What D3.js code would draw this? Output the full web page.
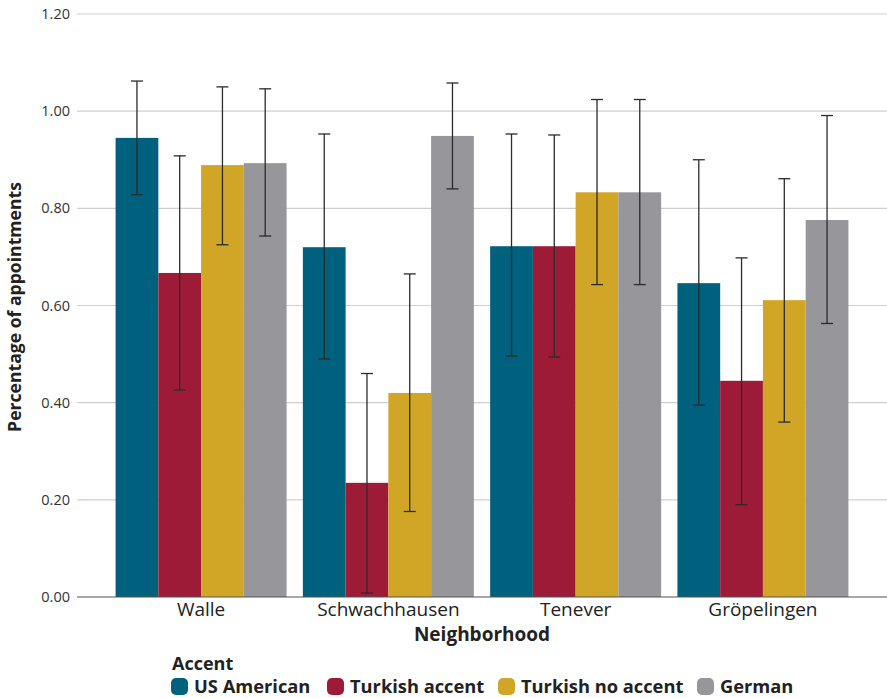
<!DOCTYPE html>
<html>
<head>
<meta charset="utf-8">
<script src="https://cdn.jsdelivr.net/npm/d3@7"></script>
<style>
  html, body { margin: 0; padding: 0; background: #fff; }
  svg { display: block; font-family: "Open Sans", "Noto Sans", sans-serif; }
</style>
</head>
<body>
<svg id="chart" width="887" height="698"></svg>
<script>
// Neighborhoods on the x axis
const neighborhoods = ["Walle", "Schwachhausen", "Tenever", "Gröpelingen"];
// Caller accent groups
const accents = ["US American", "Turkish accent", "Turkish no accent", "German"];
const accentColors = ["#00617f", "#9e1b37", "#d1a626", "#97979b"];

// Share of calls that led to an appointment, one array per accent (order of neighborhoods)
const usAmerican      = [0.945, 0.720, 0.722, 0.646];
const turkishAccent   = [0.667, 0.235, 0.722, 0.445];
const turkishNoAccent = [0.889, 0.420, 0.833, 0.611];
const german          = [0.893, 0.949, 0.833, 0.776];

// Confidence interval bounds
const usAmericanLow       = [0.828, 0.490, 0.496, 0.395];
const usAmericanHigh      = [1.062, 0.953, 0.953, 0.900];
const turkishAccentLow    = [0.426, 0.008, 0.494, 0.190];
const turkishAccentHigh   = [0.908, 0.460, 0.951, 0.698];
const turkishNoAccentLow  = [0.725, 0.176, 0.643, 0.360];
const turkishNoAccentHigh = [1.050, 0.665, 1.024, 0.861];
const germanLow           = [0.743, 0.840, 0.643, 0.563];
const germanHigh          = [1.046, 1.058, 1.024, 0.991];

const yTicks = [0, 0.2, 0.4, 0.6, 0.8, 1.0, 1.2];

const seriesValues = [usAmerican, turkishAccent, turkishNoAccent, german];
const seriesLow = [usAmericanLow, turkishAccentLow, turkishNoAccentLow, germanLow];
const seriesHigh = [usAmericanHigh, turkishAccentHigh, turkishNoAccentHigh, germanHigh];

const rows = [];
neighborhoods.forEach((n, i) => {
  accents.forEach((a, j) => {
    rows.push({ n, a, j, v: seriesValues[j][i], lo: seriesLow[j][i], hi: seriesHigh[j][i] });
  });
});

const svg = d3.select("#chart");
const plotLeft = 77, plotRight = 887, plotTop = 14, plotBottom = 597;

const x0 = d3.scaleBand().domain(neighborhoods).range([plotLeft, plotRight])
  .paddingInner(0.087).paddingOuter(0.206);
const x1 = d3.scaleBand().domain(accents).range([0, x0.bandwidth()]);
const y = d3.scaleLinear().domain([0, 1.2]).range([plotBottom, plotTop]);
const color = d3.scaleOrdinal().domain(accents).range(accentColors);

// Horizontal grid lines
svg.append("g").selectAll("line").data(yTicks.filter(d => d > 0)).join("line")
  .attr("x1", plotLeft).attr("x2", plotRight)
  .attr("y1", d => y(d)).attr("y2", d => y(d))
  .attr("stroke", "#cfcfcf").attr("stroke-width", 1.2);

// Y axis labels
const yAxis = d3.axisLeft(y).tickValues(yTicks).tickFormat(d3.format(".2f")).tickSize(0).tickPadding(7);
const yg = svg.append("g").attr("transform", `translate(${plotLeft},0)`).call(yAxis);
yg.select(".domain").remove();
yg.selectAll("text").attr("font-size", 14.5).attr("fill", "#333")
  .attr("font-family", "'Open Sans', sans-serif");

// Bars
svg.append("g").selectAll("rect").data(rows).join("rect")
  .attr("x", d => x0(d.n) + x1(d.a))
  .attr("width", x1.bandwidth())
  .attr("y", d => y(d.v))
  .attr("height", d => y(0) - y(d.v))
  .attr("fill", d => color(d.a));

// Error bars
const eb = svg.append("g").attr("stroke", "#2b2b2b").attr("stroke-width", 1.3);
rows.forEach(d => {
  const cx = x0(d.n) + x1(d.a) + x1.bandwidth() / 2;
  eb.append("line").attr("x1", cx).attr("x2", cx).attr("y1", y(d.hi)).attr("y2", y(d.lo));
  eb.append("line").attr("x1", cx - 6).attr("x2", cx + 6).attr("y1", y(d.hi)).attr("y2", y(d.hi));
  eb.append("line").attr("x1", cx - 6).attr("x2", cx + 6).attr("y1", y(d.lo)).attr("y2", y(d.lo));
});

// Baseline
svg.append("line").attr("x1", plotLeft).attr("x2", plotRight)
  .attr("y1", y(0)).attr("y2", y(0)).attr("stroke", "#555").attr("stroke-width", 1.2);

// X axis labels
const xAxis = d3.axisBottom(x0).tickSize(0).tickPadding(5);
const xg = svg.append("g").attr("transform", `translate(0,${plotBottom})`).call(xAxis);
xg.select(".domain").remove();
xg.selectAll("text").attr("font-size", 19).attr("fill", "#222")
  .attr("font-family", "'Open Sans', sans-serif");

// Axis titles
svg.append("text").attr("x", (plotLeft + plotRight) / 2).attr("y", 641)
  .attr("text-anchor", "middle").attr("font-size", 19).attr("font-weight", 700).attr("fill", "#222")
  .text("Neighborhood");
svg.append("text").attr("transform", `translate(21,307) rotate(-90)`)
  .attr("text-anchor", "middle").attr("font-size", 17.6).attr("font-weight", 700).attr("fill", "#222")
  .text("Percentage of appointments");

// Legend
const lg = svg.append("g");
lg.append("text").attr("x", 172).attr("y", 670).attr("font-size", 18).attr("font-weight", 700)
  .attr("fill", "#222").text("Accent");
const legendX = [171, 327, 498, 697];
accents.forEach((a, i) => {
  lg.append("rect").attr("x", legendX[i]).attr("y", 678).attr("width", 17).attr("height", 17)
    .attr("rx", 5).attr("fill", accentColors[i]);
  lg.append("text").attr("x", legendX[i] + 23).attr("y", 693).attr("font-size", 18.3)
    .attr("font-weight", 700).attr("fill", "#222").text(a);
});
</script>
</body>
</html>
